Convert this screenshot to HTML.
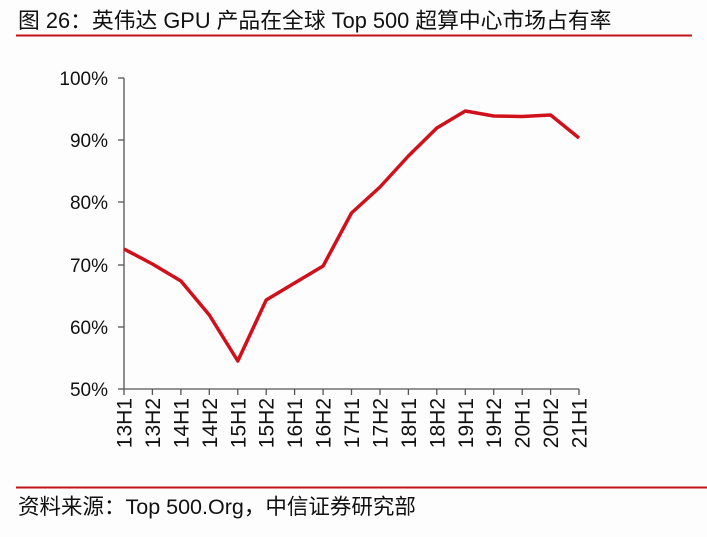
<!DOCTYPE html>
<html><head><meta charset="utf-8"><style>
body{margin:0;width:707px;height:532px;background:#fdfdfe;overflow:hidden}
svg text{font-family:"Liberation Sans","Noto Sans CJK SC",sans-serif}
</style></head><body>
<svg width="707" height="532" xmlns="http://www.w3.org/2000/svg">
<text x="18" y="28" font-size="21.8" fill="#111">图 26：英伟达 GPU 产品在全球 Top 500 超算中心市场占有率</text>
<line x1="16" y1="35.5" x2="692" y2="35.5" stroke="#c0141b" stroke-width="2"/>
<g stroke="#555" stroke-width="1.3" fill="none">
<line x1="124" y1="78" x2="124" y2="389"/>
<line x1="124" y1="389" x2="579" y2="389"/>
<line x1="118" y1="78" x2="124" y2="78"/><line x1="118" y1="140" x2="124" y2="140"/><line x1="118" y1="202" x2="124" y2="202"/><line x1="118" y1="265" x2="124" y2="265"/><line x1="118" y1="327" x2="124" y2="327"/><line x1="118" y1="389" x2="124" y2="389"/>
<path d="M124,389v6M152.4,389v6M180.9,389v6M209.3,389v6M237.8,389v6M266.2,389v6M294.6,389v6M323.1,389v6M351.5,389v6M380,389v6M408.4,389v6M436.8,389v6M465.3,389v6M493.7,389v6M522.2,389v6M550.6,389v6M579,389v6"/>
</g>
<g font-size="19" fill="#111" text-anchor="end">
<text x="108" y="85">100%</text><text x="108" y="147">90%</text><text x="108" y="209">80%</text><text x="108" y="272">70%</text><text x="108" y="334">60%</text><text x="108" y="396">50%</text>
</g>
<g font-size="21" fill="#111" text-anchor="end">
<text transform="translate(131.5,398) rotate(-90)">13H1</text>
<text transform="translate(159.9,398) rotate(-90)">13H2</text>
<text transform="translate(188.4,398) rotate(-90)">14H1</text>
<text transform="translate(216.8,398) rotate(-90)">14H2</text>
<text transform="translate(245.3,398) rotate(-90)">15H1</text>
<text transform="translate(273.7,398) rotate(-90)">15H2</text>
<text transform="translate(302.1,398) rotate(-90)">16H1</text>
<text transform="translate(330.6,398) rotate(-90)">16H2</text>
<text transform="translate(359,398) rotate(-90)">17H1</text>
<text transform="translate(387.5,398) rotate(-90)">17H2</text>
<text transform="translate(415.9,398) rotate(-90)">18H1</text>
<text transform="translate(444.3,398) rotate(-90)">18H2</text>
<text transform="translate(472.8,398) rotate(-90)">19H1</text>
<text transform="translate(501.2,398) rotate(-90)">19H2</text>
<text transform="translate(529.7,398) rotate(-90)">20H1</text>
<text transform="translate(558.1,398) rotate(-90)">20H2</text>
<text transform="translate(586.5,398) rotate(-90)">21H1</text>
</g>
<polyline fill="none" stroke="#d0111b" stroke-width="3.5" stroke-linejoin="round" points="124,249 152.4,264 180.9,281 209.3,315 237.8,361 266.2,300 294.6,283 323.1,266 351.5,213 380,187 408.4,156 436.8,128 465.3,111 493.7,116 522.2,116.5 550.6,115 579,138"/>
<line x1="16" y1="487.5" x2="707" y2="487.5" stroke="#c0141b" stroke-width="2"/>
<text x="18" y="514" font-size="21.5" fill="#111">资料来源：Top 500.Org，中信证券研究部</text>
</svg>
</body></html>
